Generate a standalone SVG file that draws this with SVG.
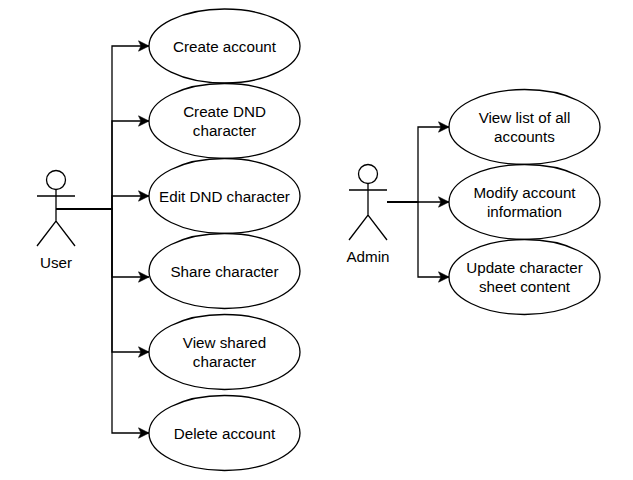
<svg xmlns="http://www.w3.org/2000/svg" width="633" height="480" viewBox="0 0 633 480">
<style>
.bg{fill:#fff}
.uc{fill:#fff;stroke:#000;stroke-width:1.3}
.a{fill:none;stroke:#000;stroke-width:1.3}
.c{fill:none;stroke:#000;stroke-width:1.3;marker-end:url(#arr)}
text{font-family:"Liberation Sans",Arial,sans-serif;font-size:15.2px;fill:#000;text-anchor:middle}
</style>
<defs>
<marker id="arr" markerUnits="userSpaceOnUse" markerWidth="12" markerHeight="12" refX="11" refY="6" orient="auto">
<path d="M0.5 0.8L11 6L0.5 11.2L3 6Z" fill="#000" stroke="#000" stroke-width="0.6"/>
</marker>
</defs>
<rect class="bg" width="633" height="480"/>
<g id="connectors">
<path class="c" d="M56 209H112V46H149"/>
<path class="c" d="M56 209H112V121H149"/>
<path class="c" d="M56 209H112V196H149"/>
<path class="c" d="M56 209H112V277H149"/>
<path class="c" d="M56 209H112V352H149"/>
<path class="c" d="M56 209H112V433H149"/>
<path class="c" d="M387 202H418V127H449"/>
<path class="c" d="M387 202H449"/>
<path class="c" d="M387 202H418V277H449"/>
</g>
<g id="user"><circle class="a" cx="56" cy="180" r="9.500"/><path class="a" d="M56 189.500V221M37 196H75M37 246L56 221L75 246"/><text x="56" y="268">User</text></g>
<g id="admin"><circle class="a" cx="368" cy="174" r="9.500"/><path class="a" d="M368 183.500V215M349 190H387M349 240L368 215L387 240"/><text x="368" y="262">Admin</text></g>
<g id="uc1"><ellipse class="uc" cx="224.500" cy="46" rx="75.500" ry="37"/><text x="224.500" y="52">Create account</text></g>
<g id="uc2"><ellipse class="uc" cx="224.500" cy="121" rx="75.500" ry="37.500"/><text x="224.500" y="117">Create DND</text><text x="224.500" y="136">character</text></g>
<g id="uc3"><ellipse class="uc" cx="224.500" cy="196" rx="75.500" ry="37.500"/><text x="224.500" y="202">Edit DND character</text></g>
<g id="uc4"><ellipse class="uc" cx="224.500" cy="271" rx="75.500" ry="37.500"/><text x="224.500" y="277">Share character</text></g>
<g id="uc5"><ellipse class="uc" cx="224.500" cy="352" rx="75.500" ry="37.500"/><text x="224.500" y="348">View shared</text><text x="224.500" y="367">character</text></g>
<g id="uc6"><ellipse class="uc" cx="224.500" cy="433" rx="75.500" ry="37.500"/><text x="224.500" y="439">Delete account</text></g>
<g id="uc7"><ellipse class="uc" cx="524.500" cy="127" rx="75.500" ry="37.500"/><text x="524.500" y="123">View list of all</text><text x="524.500" y="142">accounts</text></g>
<g id="uc8"><ellipse class="uc" cx="524.500" cy="202" rx="75.500" ry="37.500"/><text x="524.500" y="198">Modify account</text><text x="524.500" y="217">information</text></g>
<g id="uc9"><ellipse class="uc" cx="524.500" cy="277" rx="75.500" ry="37.500"/><text x="524.500" y="273">Update character</text><text x="524.500" y="292">sheet content</text></g>
</svg>
